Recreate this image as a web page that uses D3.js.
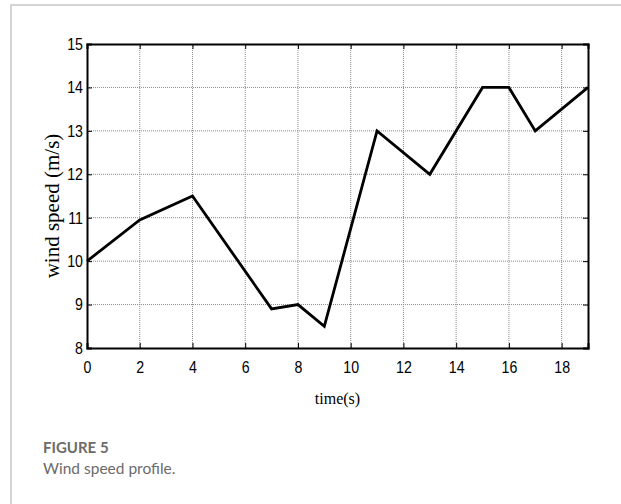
<!DOCTYPE html>
<html>
<head>
<meta charset="utf-8">
<script src="https://cdn.jsdelivr.net/npm/d3@7"></script>
<style>
  html, body { margin: 0; padding: 0; background: #fff; }
  svg { display: block; }
</style>
</head>
<body>
<svg id="chart" width="621" height="504"></svg>
<script>
// Wind speed profile: time (s) vs wind speed (m/s)
const timeSec   = [0, 2, 4, 7, 8, 9, 11, 13, 15, 16, 17, 19];
const windSpeed = [10, 10.95, 11.5, 8.9, 9.0, 8.5, 13, 12, 14, 14, 13, 14];
const xTicks = [0, 2, 4, 6, 8, 10, 12, 14, 16, 18];
const yTicks = [8, 9, 10, 11, 12, 13, 14, 15];

const svg = d3.select("#chart");
const W = 621, H = 504;
const plot = { left: 87, top: 44, right: 588, bottom: 348 };

// light frame around the figure panel
svg.append("path")
  .attr("d", `M11,${H} L11,5 L${W},5`)
  .attr("fill", "none")
  .attr("stroke", "#c6c6c6")
  .attr("stroke-width", 1.5);

const x = d3.scaleLinear().domain([0, 19]).range([plot.left, plot.right]);
const y = d3.scaleLinear().domain([8, 15]).range([plot.bottom, plot.top]);

const g = svg.append("g");

// dotted grid
g.append("g").selectAll("line").data(xTicks.filter(d => d > 0))
  .join("line")
  .attr("x1", d => x(d)).attr("x2", d => x(d))
  .attr("y1", plot.top).attr("y2", plot.bottom)
  .attr("stroke", "#8a8a8a").attr("stroke-width", 1)
  .attr("stroke-dasharray", "1,1");
g.append("g").selectAll("line").data(yTicks.filter(d => d > 8 && d < 15))
  .join("line")
  .attr("x1", plot.left).attr("x2", plot.right)
  .attr("y1", d => y(d)).attr("y2", d => y(d))
  .attr("stroke", "#8a8a8a").attr("stroke-width", 1)
  .attr("stroke-dasharray", "1,1");

// axes with inward ticks
const tickFont = "'Liberation Sans', Arial, Helvetica, sans-serif";
const xb = g.append("g").attr("transform", `translate(0,${plot.bottom})`)
  .call(d3.axisBottom(x).tickValues(xTicks).tickSize(-5).tickPadding(13).tickFormat(d3.format("d")));
const xt = g.append("g").attr("transform", `translate(0,${plot.top})`)
  .call(d3.axisTop(x).tickValues(xTicks).tickSize(-5).tickFormat(""));
const yl = g.append("g").attr("transform", `translate(${plot.left},0)`)
  .call(d3.axisLeft(y).tickValues(yTicks).tickSize(-5).tickPadding(4).tickFormat(d3.format("d")));
const yr = g.append("g").attr("transform", `translate(${plot.right},0)`)
  .call(d3.axisRight(y).tickValues(yTicks).tickSize(-5).tickFormat(""));

[xb, xt, yl, yr].forEach(a => {
  a.attr("font-family", tickFont).attr("font-size", 16.5);
  a.select(".domain").attr("stroke", "#000").attr("stroke-width", 2);
  a.selectAll(".tick line").attr("stroke", "#000").attr("stroke-width", 1);
  a.selectAll(".tick text").attr("fill", "#000");
});
// narrow the tick numerals slightly
xb.selectAll(".tick text").attr("transform", "scale(0.86,1)");
yl.selectAll(".tick text").attr("transform", "scale(0.86,1)")
  .attr("x", -4 / 0.86);

// wind speed trace
const line = d3.line().x((d, i) => x(timeSec[i])).y(d => y(d));
g.append("path")
  .datum(windSpeed)
  .attr("d", line)
  .attr("fill", "none")
  .attr("stroke", "#000")
  .attr("stroke-width", 2.8)
  .attr("stroke-linejoin", "miter");

// axis titles
svg.append("text")
  .attr("x", (plot.left + plot.right) / 2)
  .attr("y", 404)
  .attr("text-anchor", "middle")
  .style("font-family", "'Liberation Serif', 'Times New Roman', serif")
  .style("font-size", "16px")
  .text("time(s)");

svg.append("text")
  .attr("transform", "translate(52,206) rotate(-90)")
  .attr("text-anchor", "middle")
  .attr("dominant-baseline", "central")
  .style("font-family", "'Liberation Serif', 'Times New Roman', serif")
  .style("font-size", "21px")
  .text("wind speed (m/s)");

// caption
svg.append("text")
  .attr("x", 43).attr("y", 453)
  .attr("fill", "#6b6b6b")
  .style("font-family", "Lato, 'Open Sans', sans-serif")
  .style("font-size", "15px")
  .style("font-weight", "bold")
  .text("FIGURE 5");
svg.append("text")
  .attr("x", 43).attr("y", 474)
  .attr("fill", "#6b6b6b")
  .style("font-family", "Lato, 'Open Sans', sans-serif")
  .style("font-size", "15.5px")
  .text("Wind speed profile.");
</script>
</body>
</html>
